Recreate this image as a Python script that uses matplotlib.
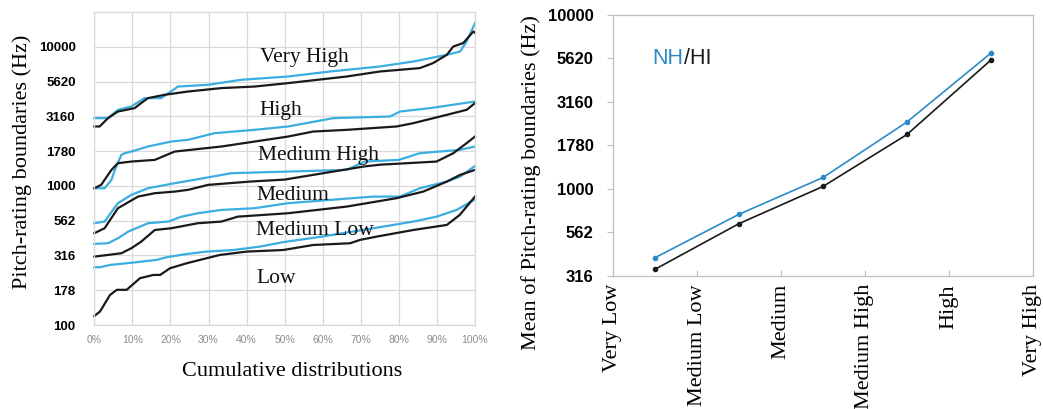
import matplotlib
matplotlib.use("Agg")
import matplotlib.pyplot as plt
from matplotlib.ticker import FixedLocator, FixedFormatter, NullLocator

# ---------------- data ----------------
# Cumulative distributions of the pitch-rating boundaries (percent, Hz)
# NH = normal hearing (blue), HI = hearing impaired (black)
low_ml_hi_pct = [0, 1.5, 4.1, 5.9, 8.5, 12.0, 15.5, 17.3, 19.9, 24.3, 29.5, 33.0, 40.0, 49.6, 57.5, 67.2, 69.8, 74.2, 83.8, 92.6, 96.0, 100]
low_ml_hi_hz = [116, 125, 164, 179, 179, 217, 229, 229, 256, 278, 302, 319, 337, 346, 376, 387, 409, 432, 482, 524, 619, 838]
low_ml_nh_pct = [0, 1.5, 4.1, 10.2, 16.4, 19.0, 24.3, 29.5, 36.5, 43.5, 49.6, 59.3, 73.3, 83.8, 89.9, 95.2, 100]
low_ml_nh_hz = [260, 260, 270, 281, 294, 307, 324, 337, 346, 366, 394, 430, 496, 554, 601, 672, 800]

ml_med_hi_pct = [0, 7.1, 9.7, 12.3, 15.9, 20.2, 27.2, 33.4, 37.7, 50.9, 66.3, 79.4, 86.4, 92.6, 96.1, 100]
ml_med_hi_hz = [310, 328, 356, 397, 482, 496, 539, 554, 601, 636, 710, 816, 910, 1074, 1200, 1303]
ml_med_nh_pct = [0, 3.6, 6.2, 8.9, 14.1, 19.4, 22.9, 27.2, 33.4, 42.1, 50.9, 62.0, 73.3, 80.3, 85.5, 92.6, 96.1, 100]
ml_med_nh_hz = [383, 387, 420, 469, 539, 554, 601, 636, 672, 691, 751, 793, 838, 838, 962, 1074, 1167, 1390]

med_mh_hi_pct = [0, 2.7, 6.2, 11.5, 15.9, 21.1, 24.6, 29.9, 40.9, 50.0, 70.7, 75.0, 89.9, 94.3, 97.8, 100]
med_mh_hi_hz = [457, 496, 691, 838, 886, 910, 936, 1017, 1074, 1110, 1377, 1420, 1496, 1718, 2029, 2263]
med_mh_nh_pct = [0, 2.7, 6.2, 9.7, 14.1, 21.1, 27.2, 36.0, 50.9, 66.3, 71.0, 80.0, 85.5, 96.0, 100]
med_mh_nh_hz = [539, 554, 751, 861, 962, 1045, 1117, 1234, 1268, 1303, 1496, 1538, 1718, 1815, 1919]

mh_high_hi_pct = [0, 1.8, 4.5, 6.2, 9.7, 15.9, 21.1, 33.4, 42.1, 50.9, 57.5, 66.3, 79.4, 83.8, 92.6, 97.8, 100]
mh_high_hi_hz = [962, 1017, 1303, 1456, 1496, 1538, 1765, 1919, 2083, 2263, 2459, 2529, 2673, 2825, 3242, 3523, 3936]
mh_high_nh_pct = [0, 2.7, 4.5, 5.4, 7.1, 8.0, 9.7, 14.1, 20.2, 24.6, 31.6, 42.1, 50.9, 62.8, 77.7, 80.3, 88.2, 100]
mh_high_nh_hz = [962, 962, 1104, 1303, 1671, 1718, 1765, 1919, 2083, 2143, 2393, 2529, 2673, 3069, 3153, 3424, 3623, 4040]

high_vh_hi_pct = [0, 1.4, 3.6, 6.2, 10.6, 12.3, 14.1, 18.5, 24.6, 33.4, 42.1, 50.9, 66.3, 75.0, 85.5, 89.0, 92.6, 94.3, 96.9, 99.6, 100]
high_vh_hi_hz = [2673, 2673, 3069, 3424, 3623, 3936, 4276, 4517, 4768, 5046, 5178, 5479, 6114, 6641, 7025, 7634, 8753, 10050, 10630, 12880, 12600]
high_vh_nh_pct = [0, 3.6, 6.2, 9.7, 13.2, 17.6, 22.0, 29.9, 38.6, 50.9, 61.9, 75.0, 83.8, 92.6, 96.1, 97.8, 100]
high_vh_nh_hz = [3069, 3069, 3523, 3722, 4276, 4276, 5178, 5330, 5790, 6114, 6641, 7218, 7838, 8753, 9250, 10920, 14820]

hz_ticks = [100, 178, 316, 562, 1000, 1780, 3160, 5620, 10000]
pct_ticks = [0, 10, 20, 30, 40, 50, 60, 70, 80, 90, 100]
region_labels = ["Very High", "High", "Medium High", "Medium", "Medium Low", "Low"]

# Mean boundaries per category gap
categories = ["Very Low", "Medium Low", "Medium", "Medium High", "High", "Very High"]
mean_nh_hz = [401, 713, 1161, 2423, 6045]
mean_hi_hz = [344, 630, 1031, 2053, 5510]
mean_ticks = [316, 562, 1000, 1780, 3160, 5620, 10000]

# ---------------- style ----------------
SERIF = ["Liberation Serif", "DejaVu Serif"]
SANS = ["Liberation Sans", "DejaVu Sans"]
BLUE_L = "#3BAEE0"
BLUE_R = "#2B8BC6"
DARK = "#1a1a1a"
GRID = "#d9d9d9"
SPINE = "#bfbfbf"

W, H = 1043, 409
fig = plt.figure(figsize=(W / 100, H / 100), dpi=100)


def fx(px):
    return px / W


def fy(py):
    return 1 - py / H


# ---------------- left panel ----------------
ax1 = fig.add_axes([fx(94.3), fy(325), (475 - 94.3) / W, (325 - 12) / H])
ax1.set_yscale("log")
ax1.set_xlim(0, 100)
ax1.set_ylim(100, 17783)
ax1.yaxis.set_major_locator(FixedLocator(hz_ticks))
ax1.yaxis.set_major_formatter(FixedFormatter([str(v) for v in hz_ticks]))
ax1.yaxis.set_minor_locator(NullLocator())
ax1.set_xticks(pct_ticks)
ax1.set_xticklabels([f"{v}%" for v in pct_ticks])
ax1.grid(True, color=GRID, lw=0.9)
ax1.set_axisbelow(True)
for s in ax1.spines.values():
    s.set_color(GRID)
    s.set_linewidth(0.9)
ax1.tick_params(axis="y", length=0, pad=13.5, labelsize=9.5)
ax1.tick_params(axis="x", length=0, pad=7, labelsize=7.5, labelcolor="#8c8c8c")
for lab in ax1.get_yticklabels():
    lab.set_fontfamily(SANS)
    lab.set_fontweight("bold")
for lab in ax1.get_xticklabels():
    lab.set_fontfamily(SANS)

curves = [
    (low_ml_nh_pct, low_ml_nh_hz, BLUE_L), (low_ml_hi_pct, low_ml_hi_hz, DARK),
    (ml_med_nh_pct, ml_med_nh_hz, BLUE_L), (ml_med_hi_pct, ml_med_hi_hz, DARK),
    (med_mh_nh_pct, med_mh_nh_hz, BLUE_L), (med_mh_hi_pct, med_mh_hi_hz, DARK),
    (mh_high_nh_pct, mh_high_nh_hz, BLUE_L), (mh_high_hi_pct, mh_high_hi_hz, DARK),
    (high_vh_nh_pct, high_vh_nh_hz, BLUE_L), (high_vh_hi_pct, high_vh_hi_hz, DARK),
]
for xs, ys, col in curves:
    ax1.plot(xs, ys, color=col, lw=1.6, clip_on=False)

label_pos = [(0.435, 0.841), (0.435, 0.671), (0.431, 0.527), (0.427, 0.399), (0.425, 0.288), (0.425, 0.133)]
for text, (tx, ty) in zip(region_labels, label_pos):
    ax1.text(tx, ty, text, transform=ax1.transAxes, fontsize=15.5, family=SERIF,
             ha="left", va="baseline", color="#111111")

fig.text(fx(22), fy(161.5), "Pitch-rating boundaries (Hz)", rotation=90, family=SERIF,
         fontsize=16, ha="center", va="center")
fig.text(fx(292.5), fy(371.7), "Cumulative distributions", family=SERIF,
         fontsize=16, ha="center", va="center")

# ---------------- right panel ----------------
ax2 = fig.add_axes([fx(613), fy(275.7), 420 / W, 260.7 / H])
ax2.set_yscale("log")
ax2.set_xlim(0, 5)
ax2.set_ylim(316, 10000)
ax2.yaxis.set_major_locator(FixedLocator(mean_ticks))
ax2.yaxis.set_major_formatter(FixedFormatter([str(v) for v in mean_ticks]))
ax2.yaxis.set_minor_locator(NullLocator())
ax2.set_xticks(range(len(categories)))
ax2.set_xticklabels(categories, rotation=90, family=SERIF, fontsize=16, va="top")
for s in ax2.spines.values():
    s.set_color(SPINE)
    s.set_linewidth(0.9)
ax2.tick_params(axis="y", length=4, color=SPINE, pad=10, labelsize=12)
ax2.tick_params(axis="x", direction="in", length=4, color=SPINE, pad=6)
for lab in ax2.get_yticklabels():
    lab.set_fontfamily(SANS)
    lab.set_fontweight("bold")

xpos = [i + 0.5 for i in range(len(mean_nh_hz))]
ax2.plot(xpos, mean_nh_hz, color=BLUE_R, lw=1.2, marker="o", ms=3)
ax2.plot(xpos, mean_hi_hz, color=DARK, lw=1.2, marker="o", ms=3)

fig.text(fx(531), fy(182.5), "Mean of Pitch-rating boundaries (Hz)", rotation=90,
         family=SERIF, fontsize=16, ha="center", va="center")

t_nh = fig.text(fx(652.6), fy(64), "NH", color=BLUE_R, family=SANS, fontsize=15.5,
                ha="left", va="baseline")
fig.canvas.draw()
bb = t_nh.get_window_extent()
fig.text(bb.x1 / W, fy(64), "/HI", color=DARK, family=SANS, fontsize=15.5,
         ha="left", va="baseline")

fig.savefig("out.png", dpi=100)
